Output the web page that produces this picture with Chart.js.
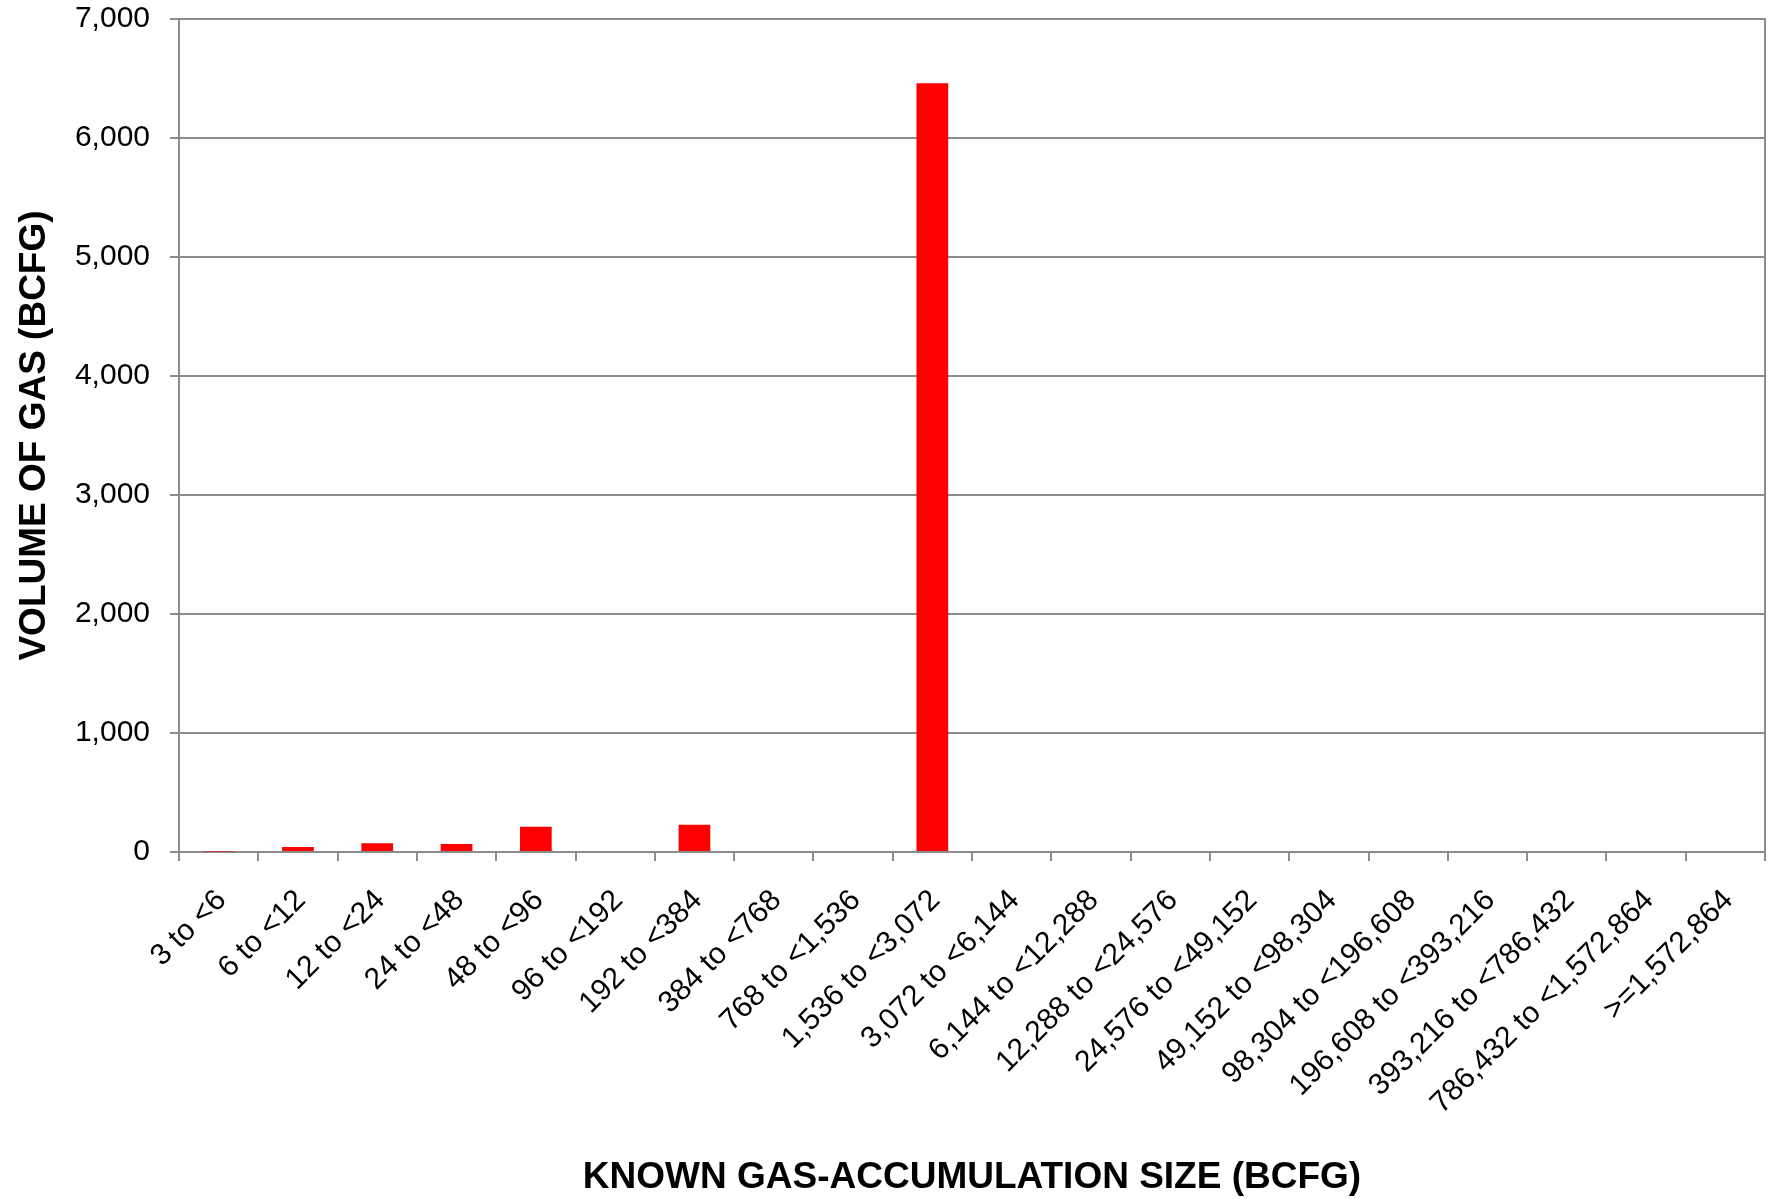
<!DOCTYPE html>
<html>
<head>
<meta charset="utf-8">
<script src="https://cdn.jsdelivr.net/npm/chart.js@4.4.1/dist/chart.umd.min.js"></script>
<style>
  html, body { margin: 0; padding: 0; background: #fff; }
  #wrap { width: 1773px; height: 1199px; }
</style>
</head>
<body>
<div id="wrap"><canvas id="gasChart"></canvas></div>
<script>
// size classes of known gas accumulations (BCFG)
const sizeClasses = [
    '3 to <6', '6 to <12', '12 to <24', '24 to <48', '48 to <96',
    '96 to <192', '192 to <384', '384 to <768', '768 to <1,536', '1,536 to <3,072',
    '3,072 to <6,144', '6,144 to <12,288', '12,288 to <24,576', '24,576 to <49,152', '49,152 to <98,304',
    '98,304 to <196,608', '196,608 to <393,216', '393,216 to <786,432', '786,432 to <1,572,864', '>=1,572,864'
];

// volume of gas in each class (BCFG)
const gasVolume = [5, 42, 73, 67, 213, 0, 230, 0, 0, 6460, 0, 0, 0, 0, 0, 0, 0, 0, 0, 0];

const yTicks = [0, 1000, 2000, 3000, 4000, 5000, 6000, 7000];

const gridColor = '#8c8c8c';
const fontFamily = '"Liberation Sans", Arial, sans-serif';

const ctx = document.getElementById('gasChart').getContext('2d');
const chart = new Chart(ctx, {
    type: 'bar',
    data: {
        labels: sizeClasses,
        datasets: [{
            data: gasVolume,
            backgroundColor: '#ff0000',
            borderWidth: 0,
            barPercentage: 0.4,
            categoryPercentage: 1.0
        }]
    },
    options: {
        responsive: true,
        maintainAspectRatio: false,
        animation: false,
        layout: { padding: { left: 0, right: 8, top: 0, bottom: 0 } },
        plugins: {
            legend: { display: false },
            tooltip: { enabled: false }
        },
        scales: {
            x: {
                offset: true,
                // fixed box so the plot area lines up with the original
                afterFit: axis => {
                    axis.height = 347;
                    axis.paddingLeft = 0;
                    axis.paddingRight = 0;
                },
                grid: {
                    offset: true,
                    drawOnChartArea: false,
                    drawTicks: true,
                    tickLength: 9,
                    color: gridColor,
                    lineWidth: 2
                },
                border: { color: gridColor, width: 2 },
                ticks: {
                    autoSkip: false,
                    maxRotation: 45,
                    minRotation: 45,
                    padding: 22,
                    labelOffset: 3,
                    color: '#000',
                    font: { family: fontFamily, size: 30 }
                },
                title: {
                    display: true,
                    text: 'KNOWN GAS-ACCUMULATION SIZE (BCFG)',
                    color: '#000',
                    font: { family: fontFamily, size: 37, weight: 'bold', lineHeight: 1.15 },
                    padding: { top: 0, bottom: 0 }
                }
            },
            y: {
                min: 0,
                max: 7000,
                afterBuildTicks: axis => {
                    axis.ticks = yTicks.map(v => ({ value: v }));
                },
                afterFit: axis => {
                    axis.width = 179;
                    axis.paddingTop = 19;
                    axis.paddingBottom = 0;
                },
                grid: {
                    color: gridColor,
                    lineWidth: 2,
                    tickLength: 9
                },
                border: { color: gridColor, width: 2 },
                ticks: {
                    padding: 20,
                    color: '#000',
                    font: { family: fontFamily, size: 30 },
                    callback: v => v.toLocaleString('en-US')
                },
                title: {
                    display: true,
                    text: 'VOLUME OF GAS (BCFG)',
                    color: '#000',
                    font: { family: fontFamily, size: 37, weight: 'bold' },
                    padding: { top: 13, bottom: 0 }
                }
            },
            // right-hand frame line of the plot area
            yRight: {
                position: 'right',
                min: 0,
                max: 7000,
                afterFit: axis => {
                    axis.width = 0;
                    axis.paddingTop = 0;
                    axis.paddingBottom = 0;
                },
                grid: { display: false },
                ticks: { display: false },
                border: { display: true, color: gridColor, width: 2 }
            }
        }
    }
});
</script>
</body>
</html>
